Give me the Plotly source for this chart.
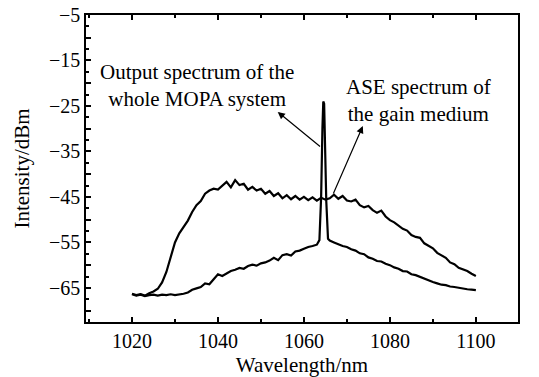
import plotly.graph_objects as go

# ASE spectrum of the gain medium (1 nm steps, 1020..1100)
ase_wl = list(range(1020, 1101))
ase_db = [-66.3, -66.6, -66.4, -66.7, -66.2, -65.8, -65.2, -63.8, -61.5, -58.3,
          -55.0, -53.0, -51.5, -50.2, -48.3, -46.8, -45.9, -44.3, -43.6, -43.2,
          -43.4, -42.6, -41.7, -42.9, -41.3, -42.4, -42.1, -43.4, -42.8, -43.6,
          -43.2, -44.3, -43.7, -44.8, -44.2, -45.3, -44.6, -45.5, -44.8, -45.6,
          -45.0, -45.7, -45.1, -45.8, -45.2, -45.6, -45.3, -44.5, -45.4, -44.8,
          -45.8, -46.0, -45.6, -46.8, -47.3, -47.0, -47.9, -48.5, -48.0, -49.3,
          -50.1, -50.6, -51.4, -52.0, -52.4, -53.4, -53.8, -54.0, -55.2, -55.8,
          -56.3, -57.3, -57.9, -58.4, -59.4, -59.8, -60.6, -61.0, -61.3, -61.9,
          -62.4]

# Output spectrum of the whole MOPA system
mopa_wl = list(range(1020, 1064)) + [1063.6, 1064.0, 1064.3, 1064.5, 1064.7, 1064.9, 1065.2, 1065.6] + list(range(1066, 1101))
mopa_db = [-66.4, -66.7, -66.5, -66.8, -66.6, -66.5, -66.7, -66.5, -66.6, -66.4,
           -66.6, -66.5, -66.3, -66.0, -65.4, -65.1, -64.8, -64.0, -64.2, -63.1,
           -62.0, -62.4, -61.8, -61.3, -61.0, -60.6, -60.8, -60.2, -59.9, -60.1,
           -59.6, -59.4, -59.0, -58.4, -58.9, -57.8, -57.6, -57.9, -57.0, -56.8,
           -56.4, -56.0, -55.8, -55.5,
           -54.5, -45.0, -30.0, -24.0, -24.5, -32.0, -46.0, -54.2,
           -54.6, -55.0, -55.4, -55.8, -56.0, -56.5, -56.8, -57.4, -57.6, -58.3,
           -58.6, -59.1, -59.2, -59.7, -60.0, -60.5, -60.8, -61.3, -61.4, -62.0,
           -62.2, -62.6, -63.0, -63.3, -63.7, -64.0, -64.3, -64.4, -64.7, -64.8,
           -65.0, -65.1, -65.3, -65.4, -65.5]

x_ticks = [1020, 1040, 1060, 1080, 1100]
y_tickvals = [-70, -65, -60, -55, -50, -45, -40, -35, -30, -25, -20, -15, -10, -5]
y_ticktext = ["", "−65", "", "−55", "", "−45", "", "−35", "", "−25", "", "−15", "", "−5"]

FONT = "Liberation Serif"

fig = go.Figure()
fig.add_trace(go.Scatter(x=ase_wl, y=ase_db, mode="lines",
                         line=dict(color="black", width=2.2), showlegend=False))
fig.add_trace(go.Scatter(x=mopa_wl, y=mopa_db, mode="lines",
                         line=dict(color="black", width=2.2), showlegend=False))

fig.add_annotation(x=1035.1, y=-20.5, xref="x", yref="y",
                   text="Output spectrum of the<br>whole MOPA system",
                   showarrow=False, font=dict(family=FONT, size=21, color="black"))
fig.add_annotation(x=1086.7, y=-23.7, xref="x", yref="y",
                   text="ASE spectrum of<br>the gain medium",
                   showarrow=False, font=dict(family=FONT, size=21, color="black"))

fig.add_annotation(x=1053.9, y=-26.3, ax=1064.1, ay=-34.2,
                   xref="x", yref="y", axref="x", ayref="y", text="",
                   showarrow=True, arrowhead=2, arrowsize=1.2, arrowwidth=1.2,
                   arrowcolor="black")
fig.add_annotation(x=1073.7, y=-29.4, ax=1066.7, ay=-44.6,
                   xref="x", yref="y", axref="x", ayref="y", text="",
                   showarrow=True, arrowhead=2, arrowsize=1.2, arrowwidth=1.2,
                   arrowcolor="black")

fig.update_layout(
    width=539, height=377,
    margin=dict(l=86, r=21, t=15, b=55),
    paper_bgcolor="white", plot_bgcolor="white",
    font=dict(family=FONT, size=20, color="black"),
)
fig.update_xaxes(
    range=[1009.3, 1109.8], tickvals=x_ticks, automargin=False,
    ticks="inside", ticklen=5, tickwidth=1.5, tickcolor="black",
    ticklabeloverflow="allow",
    minor=dict(dtick=10, tick0=1010, ticks="inside", ticklen=3, tickcolor="black", tickwidth=1.5),
    showline=True, linecolor="black", linewidth=1.5, mirror="ticks",
    showgrid=False, zeroline=False,
    title=dict(text="Wavelength/nm", font=dict(family=FONT, size=21), standoff=12),
    tickfont=dict(family=FONT, size=20),
)
fig.update_yaxes(
    range=[-72.5, -5], tickvals=y_tickvals, ticktext=y_ticktext, automargin=False,
    ticks="inside", ticklen=5, tickwidth=1.5, tickcolor="black",
    ticklabeloverflow="allow",
    minor=dict(dtick=2.5, tick0=-5, ticks="inside", ticklen=3, tickcolor="black", tickwidth=1.5),
    showline=True, linecolor="black", linewidth=1.5, mirror=True,
    showgrid=False, zeroline=False,
    title=dict(text="Intensity/dBm", font=dict(family=FONT, size=21), standoff=14),
    tickfont=dict(family=FONT, size=20),
)

fig.write_html("out.html",
               config={"displayModeBar": False},
               post_script="document.body.style.margin='0';document.body.style.overflow='hidden';")
